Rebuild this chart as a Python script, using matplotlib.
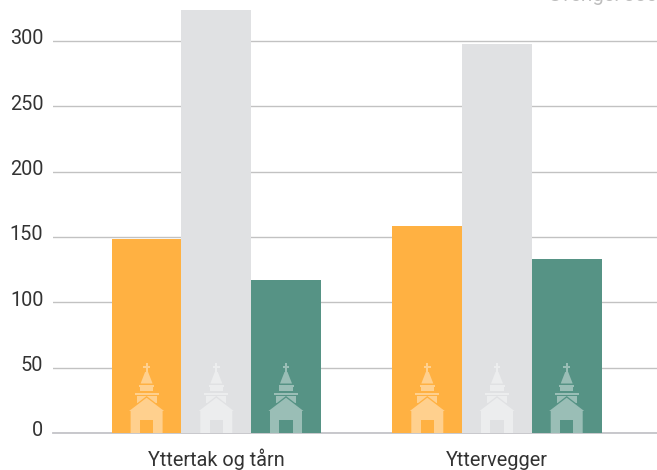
# -*- coding: utf-8 -*-
import matplotlib
matplotlib.use("Agg")
from matplotlib import pyplot as plt
from matplotlib.colors import to_rgb
from matplotlib.patches import Polygon, Rectangle
from matplotlib.transforms import Affine2D, ScaledTranslation

# data
categories = ["Yttertak og tårn", "Yttervegger"]
orange_vals = [148.5, 158.5]
grey_vals = [323.5, 298]
green_vals = [117, 133]
colors = ["#FFB142", "#E0E1E3", "#569385"]
yticks = [0, 50, 100, 150, 200, 250, 300]

W, H = 657, 470
plt.rcParams["font.family"] = ["Roboto", "DejaVu Sans"]

fig = plt.figure(figsize=(W / 100, H / 100), dpi=100)
ax = fig.add_axes([53 / W, (H - 433) / H, (W - 53) / W, 433 / H])
ax.set_ylim(0, 433 / (392 / 300))
ax.set_xlim((53 - 216.3) / 280.7, (657 - 216.3) / 280.7)
for s in ax.spines.values():
    s.set_visible(False)

ax.set_axisbelow(True)
ax.yaxis.grid(True, color="#C2C2C2", lw=1.0)
ax.set_yticks(yticks)
ax.set_xticks(range(len(categories)))
ax.set_xticklabels(categories, va="baseline")
ax.tick_params(axis="both", length=0, labelsize=14.3, labelcolor="#333333")
ax.tick_params(axis="y", pad=7)
ax.tick_params(axis="x", pad=23.8)
ax.axhline(0, color="#C4C4C8", lw=1.3, clip_on=False, zorder=1)

# y labels sit a little above their grid lines
for lab in ax.get_yticklabels():
    lab.set_transform(lab.get_transform() + ScaledTranslation(0, 3 / 72, fig.dpi_scale_trans))

bar_w = 69.7 / 280.7
series = [orange_vals, grey_vals, green_vals]
for i, vals in enumerate(series):
    xs = [k + (i - 1) * bar_w for k in range(len(categories))]
    ax.bar(xs, vals, width=bar_w, color=colors[i], zorder=2)


# little church painted at the foot of each bar, sizes in pixels
def church(xc, col):
    pale = tuple(0.6 * c + 0.4 for c in to_rgb(col))
    x0, y0 = ax.transData.transform((xc, 0))
    tr = Affine2D().translate(x0, y0)
    rects = [(-1, 58, 2, 12), (-3.3, 65, 6.6, 1.8), (-7.5, 46.3, 15, 2),
             (-6.7, 41.7, 13.4, 4), (-12, 38, 24, 2.3), (-10, 30, 20, 7.5)]
    for rx, ry, rw, rh in rects:
        ax.add_patch(Rectangle((rx, ry), rw, rh, fc=pale, ec="none", transform=tr, zorder=3, clip_on=False))
    ax.add_patch(Polygon([(-6, 49.5), (6, 49.5), (1.5, 61), (-1.5, 61)], fc=pale, ec="none", transform=tr, zorder=3))
    # house with a thin gap line above the roof
    ax.add_patch(Polygon([(-17.5, 23.5), (0, 37), (17.5, 23.5)], fc=col, ec="none", transform=tr, zorder=3.5))
    ax.add_patch(Polygon([(-16, 0), (-16, 22), (-17.5, 22), (0, 35.3), (17.5, 22), (16, 22), (16, 0)],
                         fc=pale, ec="none", transform=tr, zorder=4))
    ax.add_patch(Rectangle((-6.7, 0), 13.4, 13.3, fc=col, ec="none", transform=tr, zorder=5))


for i in range(len(series)):
    for k in range(len(categories)):
        church(k + (i - 1) * bar_w, colors[i])

# source note, cut by the top edge in the original
fig.text(1.0, 1 - 1 / H, "Sverige: 380", ha="right", va="baseline", fontsize=14.3, color="#BDBDBD")

fig.savefig("out.png", dpi=100)
